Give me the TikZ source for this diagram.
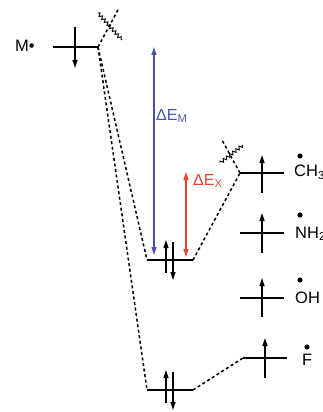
\documentclass[tikz,border=0pt]{standalone}
\usepackage{fontspec}
\setmainfont{Liberation Sans}
\usepackage{xcolor}
\usetikzlibrary{arrows.meta,positioning,decorations.pathmorphing}
\definecolor{gapM}{RGB}{72,82,172}
\definecolor{gapX}{RGB}{232,68,48}

\begin{document}
\begin{tikzpicture}[x=1pt, y=-1pt,
  level/.style={line width=2.8pt},
  spin/.style={line width=1.2pt, -{Triangle[length=8pt,width=5pt]}},
  corr/.style={line width=1.5pt, dash pattern=on 3pt off 2.6pt},
  brk/.style={line width=0.9pt, decorate, decoration={snake, amplitude=1.6pt, segment length=4pt}},
  gap/.style={line width=1.2pt, {Triangle[length=8pt,width=5pt]}-{Triangle[length=8pt,width=5pt]}},
  lbl/.style={font=\fontsize{16.5}{19}\selectfont, inner sep=0pt, anchor=west},
  glbl/.style={font=\fontsize{16}{19}\selectfont, inner sep=0pt, anchor=west}
]
  \useasboundingbox (0,0) rectangle (322,412);

  % level end points
  \coordinate (mL) at (53,47);   \coordinate (mR) at (98,47);
  \coordinate (mxL) at (147,260); \coordinate (mxR) at (193,260);
  \coordinate (mfL) at (147,390); \coordinate (mfR) at (193,390);
  \coordinate (ch3L) at (240,173); \coordinate (ch3R) at (284,173);
  \coordinate (nh2L) at (240,233); \coordinate (nh2R) at (284,233);
  \coordinate (ohL) at (240,298);  \coordinate (ohR) at (284,298);
  \coordinate (fL) at (243,358);   \coordinate (fR) at (287,358);
  \coordinate (mtop) at (119,8);
  \coordinate (xtop) at (222,140);

  % levels
  \draw[level] (mL) -- (mR);
  \draw[level] (mxL) -- (mxR);
  \draw[level] (mfL) -- (mfR);
  \draw[level] (ch3L) -- (ch3R);
  \draw[level] (nh2L) -- (nh2R);
  \draw[level] (ohL) -- (ohR);
  \draw[level] (fL) -- (fR);

  % electrons
  \draw[spin] (75,27) -- (75,68);
  \draw[spin] (166,273) -- (166,240);
  \draw[spin] (173,242) -- (173,280);
  \draw[spin] (166,403) -- (166,370);
  \draw[spin] (173,372) -- (173,410);
  \draw[spin] (262,193) -- (262,155);
  \draw[spin] (262,253) -- (262,213);
  \draw[spin] (262,317) -- (262,278);
  \draw[spin] (265,378) -- (265,338);

  % correlation lines
  \draw[corr] (mR) -- (mxL);
  \draw[corr] (mR) -- (mfL);
  \draw[corr] (mR) -- (mtop);
  \draw[corr] (mxR) -- (ch3L);
  \draw[corr] (ch3L) -- (xtop);
  \draw[corr] (mfR) -- (fL);
  \draw[brk] (98,13) -- (122,40);
  \draw[brk] (220,163) -- (243,145);

  % energy gaps
  \draw[gap, gapM] (154,47) -- (154,255);
  \draw[gap, gapX] (186,172) -- (186,257);
  \node[glbl, text=gapM] (dEM) at (156,116) {ΔE\textsubscript{M}};
  \node[glbl, text=gapX] (dEX) at (193,181) {ΔE\textsubscript{X}};

  % labels
  \node[lbl] (M) at (15,46) {M•};
  \node[lbl] (ch3) at (294,172) {CH\textsubscript{3}};
  \node[lbl] (nh2) at (295,234) {NH\textsubscript{2}};
  \node[lbl] (oh) at (295,298) {OH};
  \node[lbl] (f) at (302,360) {F};
  \fill (300,156) circle (2.6);
  \fill (300,215) circle (2.6);
  \fill (300,280) circle (2.6);
  \fill (307,347) circle (2.6);
\end{tikzpicture}
\end{document}
